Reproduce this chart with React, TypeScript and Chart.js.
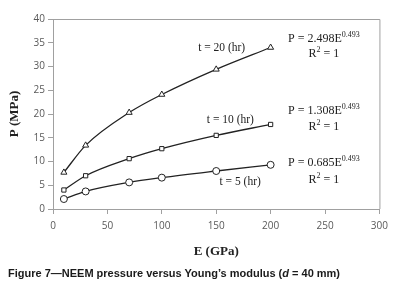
import React, { useEffect, useRef } from 'react';
import { Chart, registerables } from 'chart.js';

Chart.register(...registerables);

// Data (E in GPa, P in MPa)
const E_GPA = [10, 30, 70, 100, 150, 200];
const P_T20 = [7.7, 13.4, 20.3, 24.1, 29.4, 34.0];
const P_T10 = [4.0, 7.0, 10.6, 12.7, 15.5, 17.8];
const P_T5 = [2.1, 3.7, 5.6, 6.6, 8.0, 9.3];

const SERIES_NAMES = ['t = 20 (hr)', 't = 10 (hr)', 't = 5 (hr)'];
const POINT_STYLES = ['triangle', 'rect', 'circle'];
const COEFFS = ['2.498', '1.308', '0.685'];
const EXPONENT = '0.493';

// label anchors in data space [E, P]
const NAME_ANCHORS = [[155, 33.9], [163, 18.7], [172, 5.7]];
const EQ_ANCHORS = [[249, 35.8], [249, 20.6], [249, 9.7]];
const R2_ANCHORS = [[249, 32.6], [249, 17.2], [249, 6.1]];

const X_TICKS_MAX = 300;
const Y_TICKS_MAX = 40;

const CAPTION_PRE = 'Figure 7\u2014NEEM pressure versus Young\u2019s modulus (';
const CAPTION_D = 'd';
const CAPTION_POST = ' = 40 mm)';

const AXIS_GRAY = '#a0a0a0';
const TICK_COLOR = '#595959';
const LINE_COLOR = '#222222';
const SERIF = '"Liberation Serif", "DejaVu Serif", serif';

function drawSup(ctx: CanvasRenderingContext2D, base: string, sup: string, tail: string, cx: number, cy: number) {
  const bigFont = `12px ${SERIF}`;
  const smallFont = `8px ${SERIF}`;
  ctx.font = bigFont;
  const wb = ctx.measureText(base).width;
  const wt = ctx.measureText(tail).width;
  ctx.font = smallFont;
  const ws = ctx.measureText(sup).width;
  const total = wb + ws + wt;
  let x = cx - total / 2;
  ctx.textBaseline = 'middle';
  ctx.textAlign = 'left';
  ctx.font = bigFont;
  ctx.fillText(base, x, cy);
  x += wb;
  ctx.font = smallFont;
  ctx.fillText(sup, x, cy - 4);
  x += ws;
  ctx.font = bigFont;
  ctx.fillText(tail, x, cy);
}

const annotationPlugin = {
  id: 'annotations',
  afterDraw(chart: any) {
    const { ctx, chartArea, scales } = chart;
    const xs = scales.x;
    const ys = scales.y;
    ctx.save();
    // plot area border (top and right)
    ctx.strokeStyle = AXIS_GRAY;
    ctx.lineWidth = 1;
    ctx.beginPath();
    ctx.moveTo(chartArea.left, chartArea.top + 0.5);
    ctx.lineTo(chartArea.right + 0.5, chartArea.top + 0.5);
    ctx.lineTo(chartArea.right + 0.5, chartArea.bottom);
    ctx.stroke();

    ctx.fillStyle = '#222';
    for (let i = 0; i < 3; i++) {
      ctx.font = `11.5px ${SERIF}`;
      ctx.textAlign = 'center';
      ctx.textBaseline = 'middle';
      ctx.fillText(
        SERIES_NAMES[i],
        xs.getPixelForValue(NAME_ANCHORS[i][0]),
        ys.getPixelForValue(NAME_ANCHORS[i][1])
      );
      drawSup(
        ctx,
        `P = ${COEFFS[i]}E`,
        EXPONENT,
        '',
        xs.getPixelForValue(EQ_ANCHORS[i][0]),
        ys.getPixelForValue(EQ_ANCHORS[i][1])
      );
      drawSup(
        ctx,
        'R',
        '2',
        ' = 1',
        xs.getPixelForValue(R2_ANCHORS[i][0]),
        ys.getPixelForValue(R2_ANCHORS[i][1])
      );
    }
    ctx.restore();
  },
};

export default function App() {
  const canvasRef = useRef<HTMLCanvasElement | null>(null);

  useEffect(() => {
    document.body.style.margin = '0';
    const canvas = canvasRef.current;
    if (!canvas) return;
    const seriesValues = [P_T20, P_T10, P_T5];
    const chart = new Chart(canvas, {
      type: 'line',
      data: {
        datasets: seriesValues.map((vals, i) => ({
          label: SERIES_NAMES[i],
          data: E_GPA.map((e, j) => ({ x: e, y: vals[j] })),
          borderColor: LINE_COLOR,
          borderWidth: 1.3,
          backgroundColor: '#ffffff',
          pointStyle: POINT_STYLES[i] as any,
          pointRadius: i === 1 ? 3 : 3.5,
          pointBorderColor: LINE_COLOR,
          pointBackgroundColor: '#ffffff',
          pointBorderWidth: 1,
          cubicInterpolationMode: 'monotone' as const,
          fill: false,
        })),
      },
      options: {
        animation: false,
        responsive: false,
        maintainAspectRatio: false,
        layout: { padding: { left: 0, top: 19, right: 10, bottom: 32 } },
        plugins: {
          legend: { display: false },
          tooltip: { enabled: false },
        },
        scales: {
          x: {
            type: 'linear',
            min: 0,
            max: X_TICKS_MAX,
            ticks: {
              stepSize: 50,
              color: TICK_COLOR,
              padding: 6,
              font: { family: '"Open Sans", "Liberation Sans", sans-serif', size: 10 },
            },
            grid: {
              drawOnChartArea: false,
              drawTicks: true,
              tickLength: 5,
              color: AXIS_GRAY,
            },
            border: { display: true, color: AXIS_GRAY },
            title: {
              display: true,
              text: 'E (GPa)',
              color: '#222',
              padding: { top: 0, bottom: 0 },
              font: { family: SERIF, size: 13, weight: 'bold' },
            },
            afterFit(scale: any) {
              scale.height = 50;
            },
          },
          y: {
            type: 'linear',
            min: 0,
            max: Y_TICKS_MAX,
            ticks: {
              stepSize: 5,
              color: TICK_COLOR,
              padding: 3,
              font: { family: '"Open Sans", "Liberation Sans", sans-serif', size: 10 },
            },
            grid: {
              drawOnChartArea: false,
              drawTicks: true,
              tickLength: 5,
              color: AXIS_GRAY,
            },
            border: { display: true, color: AXIS_GRAY },
            title: {
              display: true,
              text: 'P (MPa)',
              color: '#222',
              padding: { top: 7, bottom: 0 },
              font: { family: SERIF, size: 13, weight: 'bold' },
            },
            afterFit(scale: any) {
              scale.width = 53;
            },
          },
        },
      },
      plugins: [annotationPlugin],
    });
    return () => chart.destroy();
  }, []);

  return (
    <div style={{ position: 'relative', width: 394, height: 291, background: '#fff' }}>
      <canvas ref={canvasRef} width={394} height={291} style={{ display: 'block', width: 394, height: 291 }} />
      <div
        style={{
          position: 'absolute',
          left: 8,
          top: 266,
          fontFamily: '"Liberation Sans", Arial, sans-serif',
          fontWeight: 'bold',
          fontSize: 11,
          lineHeight: '14px',
          color: '#1a1a1a',
          whiteSpace: 'nowrap',
        }}
      >
        {CAPTION_PRE}
        <i>{CAPTION_D}</i>
        {CAPTION_POST}
      </div>
    </div>
  );
}
